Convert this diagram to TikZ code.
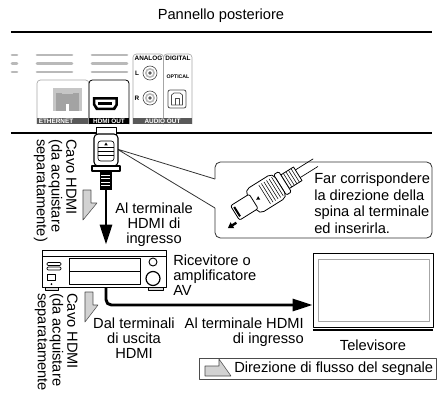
\documentclass[tikz,border=0pt]{standalone}
\usepackage{fontspec}
\setmainfont{Liberation Sans}
\usetikzlibrary{arrows.meta}
\usetikzlibrary{positioning}

\tikzset{
  lbl/.style={font=\fontsize{11}{11.1}\selectfont, inner sep=0pt},
  tinylbl/.style={font=\fontsize{4.8}{5}\selectfont\bfseries, inner sep=0pt},
  bartxt/.style={tinylbl, text=white},
  portbox/.style={draw=gray!70, line width=0.5pt, rounded corners=2.5},
  grille/.style={line width=2pt, gray!55, line cap=round},
  cable/.style={line width=2.2pt, -{Triangle[length=15pt,width=9pt]}},
  flowmark/.style={fill=gray!35, draw=gray!60!black, line width=0.4pt},
  rcvbox/.style={draw, line width=0.6pt, minimum width=93pt, minimum height=27.75pt, inner sep=0pt},
  tvbox/.style={draw, line width=0.6pt, minimum width=90pt, minimum height=55.5pt, inner sep=0pt},
}

\begin{document}
\begin{tikzpicture}[x=0.75pt,y=-0.75pt,line join=round]
  \useasboundingbox (0,0) rectangle (437,393);
  %% rear panel
  \node[lbl] (title) at (221,16) {Pannello posteriore};
  \draw[line width=1.2pt] (11,32) -- (432,32);
  \draw[line width=1.8pt] (11,133) -- (432,133);
  \foreach \y in {55,63.5,72} {
    \draw[grille] (12,\y) -- (17,\y);
    \draw[grille] (37,\y) -- (72,\y);
    \draw[grille] (92,\y) -- (127,\y);
  }
  % ethernet
  \draw[portbox] (37,124) |- (89,80) -- (89,124);
  \fill[gray!70!black] (37,117.5) rectangle (88.5,124);
  \node[bartxt, anchor=west] at (38.5,120.8) {ETHERNET};
  \fill[gray!45] (53,88) rectangle (82,111);
  \fill[gray!72] (56,93) rectangle (79,111);
  \fill[gray!45] (62,90.5) rectangle (73,94);
  \fill[white] (66.5,104) rectangle (69,111);
  % hdmi out
  \draw[line width=0.6pt, rounded corners=2.5] (89,124) |- (129,80) -- (129,124);
  \fill (89,117.5) rectangle (129,124);
  \node[bartxt] at (109,120.8) {HDMI OUT};
  \fill (93,97) -- (118,97) -- (118,105) -- (115,110) -- (96,110) -- (93,105) -- cycle;
  \fill[white] (95.5,99.5) -- (115.5,99.5) -- (115.5,104) -- (113,107.5) -- (98,107.5) -- (95.5,104) -- cycle;
  \fill (98.5,101.5) rectangle (112.5,104.5);
  % audio out
  \draw[portbox] (133,124) |- (163.5,54) -- (163.5,124);
  \draw[portbox] (163.5,124) |- (192,54) -- (192,124);
  \fill[gray!70!black] (133,117.5) rectangle (192,124);
  \node[bartxt] at (162.5,120.8) {AUDIO OUT};
  \node[tinylbl] at (148.5,58.5) {ANALOG};
  \node[tinylbl] at (178,58.5) {DIGITAL};
  \node[tinylbl, font=\fontsize{3.9}{4}\selectfont\bfseries] at (178,77) {OPTICAL};
  \node[tinylbl] at (137,73) {L};
  \node[tinylbl] at (137,98) {R};
  \foreach \y in {73,98} {
    \draw[gray!60!black, fill=white, line width=0.5pt] (150,\y) circle (7);
    \fill[gray!55] (150,\y) circle (5);
    \fill[white] (150,\y) circle (3.2);
    \fill[gray!70!black] (150,\y) circle (1.8);
  }
  \draw[gray!60!black, fill=white, line width=0.6pt, rounded corners=1.5] (168,90) rectangle (186,108);
  \draw[gray!60!black, line width=0.5pt] (171.5,105) -- (171.5,95) -- (174,93) -- (180,93) -- (182.5,95) -- (182.5,105) -- cycle;
  \draw[gray!60!black, line width=0.5pt] (175,105) -- (175,98) -- (179,98) -- (179,105);
  %% callout
  \coordinate (plugside) at (117,149);
  \draw[black!80, line width=0.6pt] (215,179) -- (plugside) -- (215,208);
  \draw[black!80, line width=0.6pt, rounded corners=4] (215,208) -- (215,238) -- (432,238) -- (432,162) -- (215,162) -- (215,179);
  \begin{scope}[shift={(235,213)}, rotate=32]
    \draw[line width=0.5pt] (74,-4.5) -- (95,-4.5) (74,4.5) -- (95,4.5);
    \draw[fill=white, line width=0.6pt] (59,-8) rectangle (74,8);
    \foreach \r in {62,65,68,71} \draw[line width=0.4pt] (\r,-8) -- (\r,8);
    \draw[fill=white, line width=0.6pt, rounded corners=1] (53,-12) rectangle (59,12);
    \draw[fill=white, line width=0.6pt, rounded corners=4] (20,-14) rectangle (53,14);
    \foreach \r in {35,38,...,50} \draw[line width=0.4pt] (\r,-11) -- (\r,11);
    \fill (25,0) -- (28.5,-2) -- (28.5,2) -- cycle;
    \draw[fill=white, line width=0.6pt, rounded corners=1.5] (0,-8.5) rectangle (22,8.5);
    \fill (1.5,-5.5) rectangle (3.5,5.5);
    \draw[line width=1.8pt, -{Triangle[length=4pt,width=5pt]}] (-4,9) -- (-14,9);
  \end{scope}
  \node[lbl, font=\fontsize{11}{12.4}\selectfont, anchor=north west, align=left] (tiptext) at (314,173)
    {Far corrispondere\\la direzione della\\spina al terminale\\ed inserirla.};
  %% hdmi plug
  \draw[fill=white, line width=0.6pt] (96,127) rectangle (116,137);
  \draw[fill=white, line width=0.8pt, rounded corners=3] (94,134) rectangle (118,166);
  \draw[line width=0.5pt, rounded corners=2] (98,141) rectangle (114,161);
  \foreach \y in {147,151,155} \draw[line width=0.5pt] (98,\y) -- (114,\y);
  \fill (106,142.5) -- (104.3,145.3) -- (107.7,145.3) -- cycle;
  \draw[fill=white, line width=1pt] (92,166) rectangle (120,171);
  \fill (100,171) rectangle (112,190);
  \foreach \y in {175,178.5,182,185.5} \draw[white, line width=0.6pt] (101.5,\y) -- (110.5,\y);
  \coordinate (plugend) at (106,190);
  %% receiver
  \node[rcvbox] (rcv) at (104.5,268.5) {};
  \draw[line width=0.6pt] ([yshift=-5.25pt]rcv.north west) -- ([yshift=-5.25pt]rcv.north east);
  \draw[line width=0.5pt, rounded corners=0.8] (47,262.5) rectangle (61,265.5) (47,267) rectangle (61,270);
  \draw[line width=0.5pt] (47,274) rectangle (55,280);
  \fill (51.5,284) circle (1);
  \draw[line width=0.6pt] (69,258) rectangle (140,284) (69,271) -- (140,271);
  \draw[line width=0.7pt] (153,262) circle (4);
  \draw[line width=0.9pt] (153,278.5) circle (7);
  \draw[fill=gray!30, line width=0.4pt] (45,287) rectangle (58,290) (148,287) rectangle (163,290);
  %% television
  \node[tvbox] (tv) at (373,290) {};
  \draw[gray!70, line width=0.5pt] (318,259) rectangle (429,321);
  \draw[line width=1.6pt] (313,330) -- (433,330);
  \node[lbl, below=9.5pt of tv] (tvlbl) {Televisore};
  %% cables
  \draw[cable, shorten >=3.75pt] (plugend) -- (plugend |- rcv.north);
  \draw[cable, rounded corners=4] (rcv.south -| plugend) |- ([yshift=-11.25pt]tv.west);
  \draw[flowmark] (83,190) -- (91,190) -- (91,203) -- (97,203) -- (83,220) -- cycle;
  \draw[flowmark] (85,292) -- (93,292) -- (93,305) -- (98,305) -- (85,322) -- cycle;
  %% labels
  \node[lbl, rotate=-90, anchor=north west, align=left] (cablea) at (77,139)
    {Cavo HDMI\\(da acquistare\\separatamente)};
  \node[lbl, rotate=-90, anchor=north west, align=left] (cableb) at (78,293)
    {Cavo HDMI\\(da acquistare\\separatamente};
  \node[lbl, anchor=north, align=center] (inlbl) at (154,203) {Al terminale\\HDMI di\\ingresso};
  \node[lbl, anchor=north west, align=left] (rcvlbl) at (173,255) {Ricevitore o\\amplificatore\\AV};
  \node[lbl, anchor=north, align=center] (outlbl) at (134,318) {Dal terminali\\di uscita\\HDMI};
  \node[lbl, anchor=north east, align=right] (tvinlbl) at (304,318) {Al terminale HDMI\\di ingresso};
  %% legend
  \draw[gray!60!black, line width=0.5pt] (199,358) rectangle (436,379);
  \draw[flowmark] (205,376) -- (205,366) -- (219,366) -- (219,359) -- (231,376) -- cycle;
  \node[lbl, anchor=west] (leglbl) at (234,368.5) {Direzione di flusso del segnale};
\end{tikzpicture}
\end{document}
